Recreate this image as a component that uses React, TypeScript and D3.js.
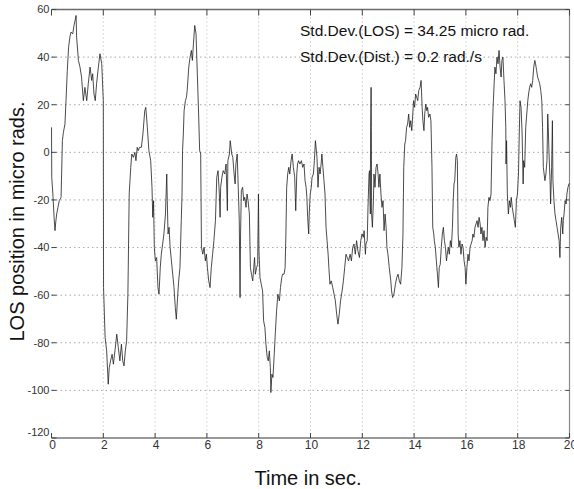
import React from "react";
import * as d3 from "d3";

const timeSec = [
  0.00, 0.01, 0.06, 0.10, 0.135, 0.17, 0.20, 0.25, 0.30, 0.37, 0.42, 0.46, 0.52, 0.56, 0.61, 0.66, 0.71, 0.75, 0.82, 0.87,
  0.95, 0.97, 1.04, 1.10, 1.16, 1.23, 1.29, 1.36, 1.42, 1.49, 1.55, 1.59, 1.64, 1.69, 1.74, 1.81, 1.87, 1.94, 2.00, 2.01,
  2.07, 2.13, 2.19, 2.23, 2.28, 2.34, 2.39, 2.45, 2.52, 2.58, 2.64, 2.70, 2.75, 2.80, 2.85, 2.90, 2.95, 3.00, 3.06, 3.10,
  3.16, 3.22, 3.26, 3.31, 3.35, 3.40, 3.47, 3.53, 3.60, 3.64, 3.70, 3.76, 3.83, 3.88, 3.91, 3.94, 3.97, 4.01, 4.06, 4.11,
  4.15, 4.20, 4.24, 4.29, 4.34, 4.40, 4.45, 4.47, 4.50, 4.54, 4.58, 4.63, 4.68, 4.73, 4.78, 4.82, 4.86, 4.91, 4.96, 5.01,
  5.04, 5.06, 5.09, 5.12, 5.17, 5.21, 5.24, 5.30, 5.35, 5.40, 5.44, 5.48, 5.53, 5.58, 5.63, 5.68, 5.72, 5.76, 5.79, 5.84,
  5.89, 5.94, 5.98, 6.02, 6.07, 6.12, 6.17, 6.22, 6.27, 6.33, 6.38, 6.43, 6.48, 6.51, 6.53, 6.58, 6.63, 6.69, 6.74, 6.79,
  6.81, 6.87, 6.90, 6.96, 7.00, 7.05, 7.09, 7.12, 7.17, 7.21, 7.25, 7.28, 7.30, 7.33, 7.38, 7.42, 7.46, 7.51, 7.55, 7.59,
  7.64, 7.68, 7.72, 7.77, 7.81, 7.84, 7.87, 7.92, 7.96, 7.99, 8.01, 8.05, 8.10, 8.15, 8.19, 8.24, 8.28, 8.33, 8.37, 8.41,
  8.45, 8.47, 8.51, 8.55, 8.60, 8.64, 8.69, 8.74, 8.80, 8.84, 8.89, 8.92, 8.98, 9.02, 9.05, 9.08, 9.12, 9.16, 9.20, 9.25,
  9.29, 9.34, 9.39, 9.43, 9.47, 9.50, 9.54, 9.59, 9.65, 9.70, 9.75, 9.79, 9.83, 9.86, 9.89, 9.93, 9.95, 9.99, 10.03, 10.06,
  10.11, 10.15, 10.19, 10.25, 10.29, 10.33, 10.37, 10.41, 10.44, 10.48, 10.52, 10.56, 10.60, 10.64, 10.68, 10.71, 10.75, 10.80, 10.86, 10.91,
  10.96, 11.01, 11.06, 11.11, 11.16, 11.22, 11.27, 11.32, 11.37, 11.42, 11.47, 11.53, 11.58, 11.63, 11.68, 11.73, 11.78, 11.83, 11.89, 11.94,
  11.99, 12.04, 12.07, 12.12, 12.14, 12.19, 12.22, 12.26, 12.28, 12.31, 12.32, 12.34, 12.35, 12.36, 12.39, 12.43, 12.45, 12.49, 12.53, 12.57,
  12.61, 12.64, 12.68, 12.72, 12.76, 12.80, 12.84, 12.88, 12.92, 12.95, 12.99, 13.04, 13.10, 13.13, 13.17, 13.22, 13.28, 13.33, 13.38, 13.43,
  13.48, 13.53, 13.57, 13.60, 13.64, 13.67, 13.71, 13.75, 13.79, 13.83, 13.87, 13.91, 13.95, 13.98, 14.02, 14.06, 14.10, 14.14, 14.18, 14.23,
  14.27, 14.31, 14.34, 14.38, 14.41, 14.45, 14.49, 14.52, 14.56, 14.61, 14.65, 14.69, 14.72, 14.76, 14.78, 14.82, 14.86, 14.90, 14.94, 14.97,
  15.01, 15.05, 15.09, 15.13, 15.17, 15.21, 15.25, 15.28, 15.32, 15.36, 15.40, 15.44, 15.48, 15.51, 15.54, 15.57, 15.61, 15.64, 15.67, 15.70,
  15.73, 15.77, 15.81, 15.85, 15.89, 15.93, 15.97, 16.00, 16.04, 16.08, 16.12, 16.16, 16.20, 16.24, 16.27, 16.31, 16.35, 16.39, 16.43, 16.47,
  16.51, 16.55, 16.58, 16.62, 16.66, 16.70, 16.74, 16.78, 16.82, 16.85, 16.89, 16.93, 16.97, 17.01, 17.05, 17.09, 17.12, 17.16, 17.20, 17.24,
  17.28, 17.32, 17.36, 17.39, 17.43, 17.47, 17.51, 17.54, 17.55, 17.57, 17.60, 17.64, 17.68, 17.72, 17.75, 17.79, 17.83, 17.87, 17.91, 17.95,
  17.99, 18.03, 18.06, 18.09, 18.13, 18.17, 18.21, 18.23, 18.27, 18.31, 18.35, 18.39, 18.42, 18.46, 18.50, 18.54, 18.58, 18.62, 18.66, 18.69,
  18.73, 18.77, 18.81, 18.85, 18.89, 18.93, 18.96, 18.99, 19.02, 19.05, 19.09, 19.13, 19.16, 19.18, 19.21, 19.25, 19.27, 19.31, 19.34, 19.36,
  19.40, 19.44, 19.48, 19.52, 19.56, 19.60, 19.63, 19.66, 19.70, 19.74, 19.76, 19.79, 19.83, 19.87, 19.90, 19.94, 19.98, 20.00,
];

const losMicroRad = [
  10.5, -10.5, -18.9, -27.3, -32.9, -28.7, -25.9, -23.1, -20.3, -18.9, 4.9, 8.4, 11.9, 21.7, 34.4, 44.2, 48.4, 50.5, 49.8, 53.3,
  57.5, 48.4, 38.6, 35.8, 31.6, 21.7, 27.3, 21.7, 28.8, 35.8, 30.2, 33.0, 24.5, 21.7, 28.8, 35.8, 41.4, 37.2, 21.7, -56.8,
  -77.8, -83.4, -97.4, -90.4, -87.6, -84.8, -89.0, -83.4, -76.4, -82.0, -87.6, -80.6, -87.6, -89.7, -83.4, -79.2, -59.6, -17.5, -6.3, -0.7,
  -2.1, 0.0, -3.5, 2.1, 0.7, 2.1, 2.1, 7.7, 17.5, 18.9, 10.5, 0.7, -3.5, -14.7, -27.3, -20.3, -39.9, -45.6, -44.2, -56.8,
  -59.6, -48.4, -42.8, -38.6, -34.3, -25.9, -9.1, -20.3, -34.3, -31.5, -39.9, -45.6, -51.2, -56.8, -65.2, -70.1, -62.4, -54.0, -48.4, -28.7,
  -17.5, 0.7, 7.7, 17.5, 21.7, 23.1, 26.0, 35.8, 40.0, 42.8, 38.6, 45.6, 53.3, 49.8, 33.0, 16.1, 0.7, -0.7, -39.9, -42.8,
  -39.9, -45.6, -42.8, -48.4, -54.0, -56.8, -48.4, -42.8, -37.1, -28.7, -10.5, -7.7, -17.5, -27.3, -14.7, -10.5, -7.7, -9.1, -4.9, -24.5,
  -3.5, -0.7, 4.9, -0.7, -2.1, -9.1, -13.3, -4.9, -0.7, -14.7, -28.7, -61.0, -34.3, -16.1, -14.7, -20.3, -18.9, -23.1, -17.5, -20.3,
  -25.9, -48.4, -51.2, -54.0, -48.4, -44.2, -51.2, -48.4, -47.0, -17.5, -41.4, -52.6, -55.4, -58.2, -70.8, -73.6, -80.6, -86.2, -87.6, -83.4,
  -90.4, -100.9, -93.2, -94.6, -84.8, -76.4, -66.6, -59.6, -62.4, -56.8, -52.6, -51.2, -51.2, -48.4, -34.3, -14.7, -9.1, -6.3, -9.1, -3.5,
  -0.7, -6.3, -10.5, -24.5, -9.1, -4.9, -3.5, -4.9, -3.5, -6.3, -4.9, -11.9, -14.7, -18.9, -27.3, -34.3, -25.9, -17.5, -14.7, -10.5,
  -9.1, -3.5, 4.9, -2.1, -14.7, -6.3, -9.1, -4.9, -0.7, -6.3, -11.9, -17.5, -31.5, -37.1, -42.8, -48.4, -55.4, -54.0, -56.8, -59.6,
  -62.4, -68.0, -72.2, -68.0, -62.4, -58.2, -54.0, -48.4, -42.8, -44.2, -45.6, -42.8, -45.6, -39.9, -38.5, -42.8, -37.1, -41.4, -44.2, -37.1,
  -34.3, -35.7, -32.9, -42.8, -38.5, -37.1, -23.1, -9.1, -7.7, -25.9, 9.1, 27.3, 10.5, -25.9, -31.5, -20.3, -9.1, -14.7, -6.3, -4.9,
  -9.1, -14.7, -9.1, -17.5, -23.1, -20.3, -32.9, -25.9, -31.5, -39.9, -42.8, -48.4, -54.0, -58.2, -61.0, -59.6, -55.4, -52.6, -51.2, -54.0,
  -55.4, -48.4, -34.3, -6.3, 3.5, 4.9, 10.5, 11.9, 16.1, 10.5, 13.3, 9.1, 16.1, 21.7, 18.9, 24.5, 23.1, 21.7, 26.0, 27.3,
  30.2, 18.9, 13.3, 9.1, 16.1, 20.3, 17.5, 18.9, 14.7, 16.1, 13.3, -6.3, -31.5, -34.3, -37.1, -39.9, -45.6, -51.2, -56.8, -48.4,
  -47.0, -39.9, -34.3, -31.5, -37.1, -39.9, -45.6, -42.8, -39.9, -42.8, -37.1, -39.9, -31.5, -20.3, -13.3, -11.9, -2.1, -0.7, -3.5, -34.3,
  -39.9, -37.1, -42.8, -38.5, -39.9, -45.6, -48.4, -55.4, -48.4, -42.8, -45.6, -39.9, -38.5, -37.1, -34.3, -35.7, -31.5, -30.1, -28.7, -31.5,
  -27.3, -30.1, -34.3, -31.5, -37.1, -32.9, -39.9, -35.7, -37.1, -23.1, -18.9, -20.3, -17.5, 4.9, 18.9, 28.8, 35.8, 33.0, 40.0, 37.2,
  42.8, 35.8, 31.6, 38.6, 40.0, 30.2, 21.7, 10.5, -4.9, 4.9, -17.5, -25.9, -20.3, -23.1, -18.9, -23.1, -25.9, -28.7, -31.5, -20.3,
  -17.5, -9.1, 7.7, 21.7, 18.9, 7.7, -13.3, -3.5, -6.3, 10.5, 16.1, 21.7, 24.5, 27.3, 28.8, 27.3, 30.2, 35.8, 38.6, 37.2,
  34.4, 31.6, 30.2, 28.8, 26.0, 21.7, 10.5, -6.3, -9.1, -11.9, -9.1, -3.5, 16.1, 10.5, -0.7, -11.9, -21.7, -6.3, 13.3, -11.9,
  -20.3, -25.9, -28.7, -31.5, -34.3, -37.1, -44.2, -31.5, -27.3, -34.3, -28.7, -25.9, -20.3, -21.7, -17.5, -14.7, -13.3, -13.0,
];

const xTicks = [0, 2, 4, 6, 8, 10, 12, 14, 16, 18, 20];
const yTicks = [-120, -100, -80, -60, -40, -20, 0, 20, 40, 60];
const annotations = [
  "Std.Dev.(LOS) = 34.25 micro rad.",
  "Std.Dev.(Dist.) = 0.2 rad./s",
];
const xLabel = "Time in sec.";
const yLabel = "LOS position in micro rads.";

const W = 574;
const H = 489;
const left = 51.5;
const right = 569.5;
const top = 9.5;
const bottom = 438;

export default function App() {
  const x = d3.scaleLinear().domain([0, 20]).range([left, right]);
  const y = d3.scaleLinear().domain([-120, 60]).range([bottom, top]);
  const pts = timeSec.map((t, i) => [t, losMicroRad[i]] as [number, number]);
  const line = d3
    .line<[number, number]>()
    .x((d) => x(d[0]))
    .y((d) => y(d[1]));
  const font = "'Liberation Sans', Arial, Helvetica, sans-serif";

  return (
    <div style={{ position: "absolute", left: 0, top: 0 }}>
      <svg width={W} height={H} style={{ display: "block", background: "#fff" }}>
        <rect x={0} y={0} width={W} height={H} fill="#fff" />
        {/* grid */}
        {xTicks.slice(1, -1).map((t) => (
          <line
            key={"gx" + t}
            x1={x(t)}
            x2={x(t)}
            y1={top}
            y2={bottom}
            stroke="#b4b4b4"
            strokeWidth={1}
            strokeDasharray="1,3"
          />
        ))}
        {yTicks.slice(1, -1).map((t) => (
          <line
            key={"gy" + t}
            x1={left}
            x2={right}
            y1={y(t)}
            y2={y(t)}
            stroke="#a8a8a8"
            strokeWidth={1}
            strokeDasharray="1.5,3"
          />
        ))}
        {/* frame */}
        <line x1={left} x2={right} y1={top} y2={top} stroke="#6a6a6a" strokeWidth={1.6} />
        <line x1={left} x2={right} y1={bottom} y2={bottom} stroke="#777" strokeWidth={1.6} />
        <line x1={right} x2={right} y1={top} y2={bottom} stroke="#8a8a8a" strokeWidth={1.2} />
        {/* ticks */}
        {yTicks.map((t) => (
          <g key={"ty" + t}>
            <line x1={left} x2={left + 5} y1={y(t)} y2={y(t)} stroke="#444" strokeWidth={1} />
            <line x1={right - 4} x2={right} y1={y(t)} y2={y(t)} stroke="#444" strokeWidth={1} />
          </g>
        ))}
        {xTicks.map((t) => (
          <g key={"tx" + t}>
            <line x1={x(t)} x2={x(t)} y1={top} y2={top + 6} stroke="#444" strokeWidth={1} />
            <line x1={x(t)} x2={x(t)} y1={bottom} y2={bottom - 5} stroke="#444" strokeWidth={1} />
          </g>
        ))}
        {/* data */}
        <path d={line(pts) || ""} fill="none" stroke="#1e1e1e" strokeWidth={0.8} />
        {/* tick labels */}
        {yTicks.map((t) => (
          <text
            key={"ly" + t}
            x={left - 2}
            y={t === -120 ? y(t) - 6 : y(t)}
            dy="0.35em"
            textAnchor="end"
            fontFamily={font}
            fontSize={11}
            fill="#333"
          >
            {t}
          </text>
        ))}
        {xTicks.map((t) => (
          <text
            key={"lx" + t}
            x={x(t) + 1}
            y={bottom + 11}
            textAnchor="middle"
            fontFamily={font}
            fontSize={12}
            fill="#333"
          >
            {t}
          </text>
        ))}
        {/* annotations */}
        {annotations.map((s, i) => (
          <text
            key={"an" + i}
            x={300}
            y={35.5 + i * 26.5}
            fontFamily={font}
            fontSize={15.5}
            fill="#111"
          >
            {s}
          </text>
        ))}
        {/* axis labels */}
        <text
          x={308}
          y={485}
          textAnchor="middle"
          fontFamily={font}
          fontSize={20}
          fill="#111"
        >
          {xLabel}
        </text>
        <text
          transform={`translate(23.5, 221.5) rotate(-90)`}
          textAnchor="middle"
          fontFamily={font}
          fontSize={20}
          fill="#111"
        >
          {yLabel}
        </text>
      </svg>
    </div>
  );
}
